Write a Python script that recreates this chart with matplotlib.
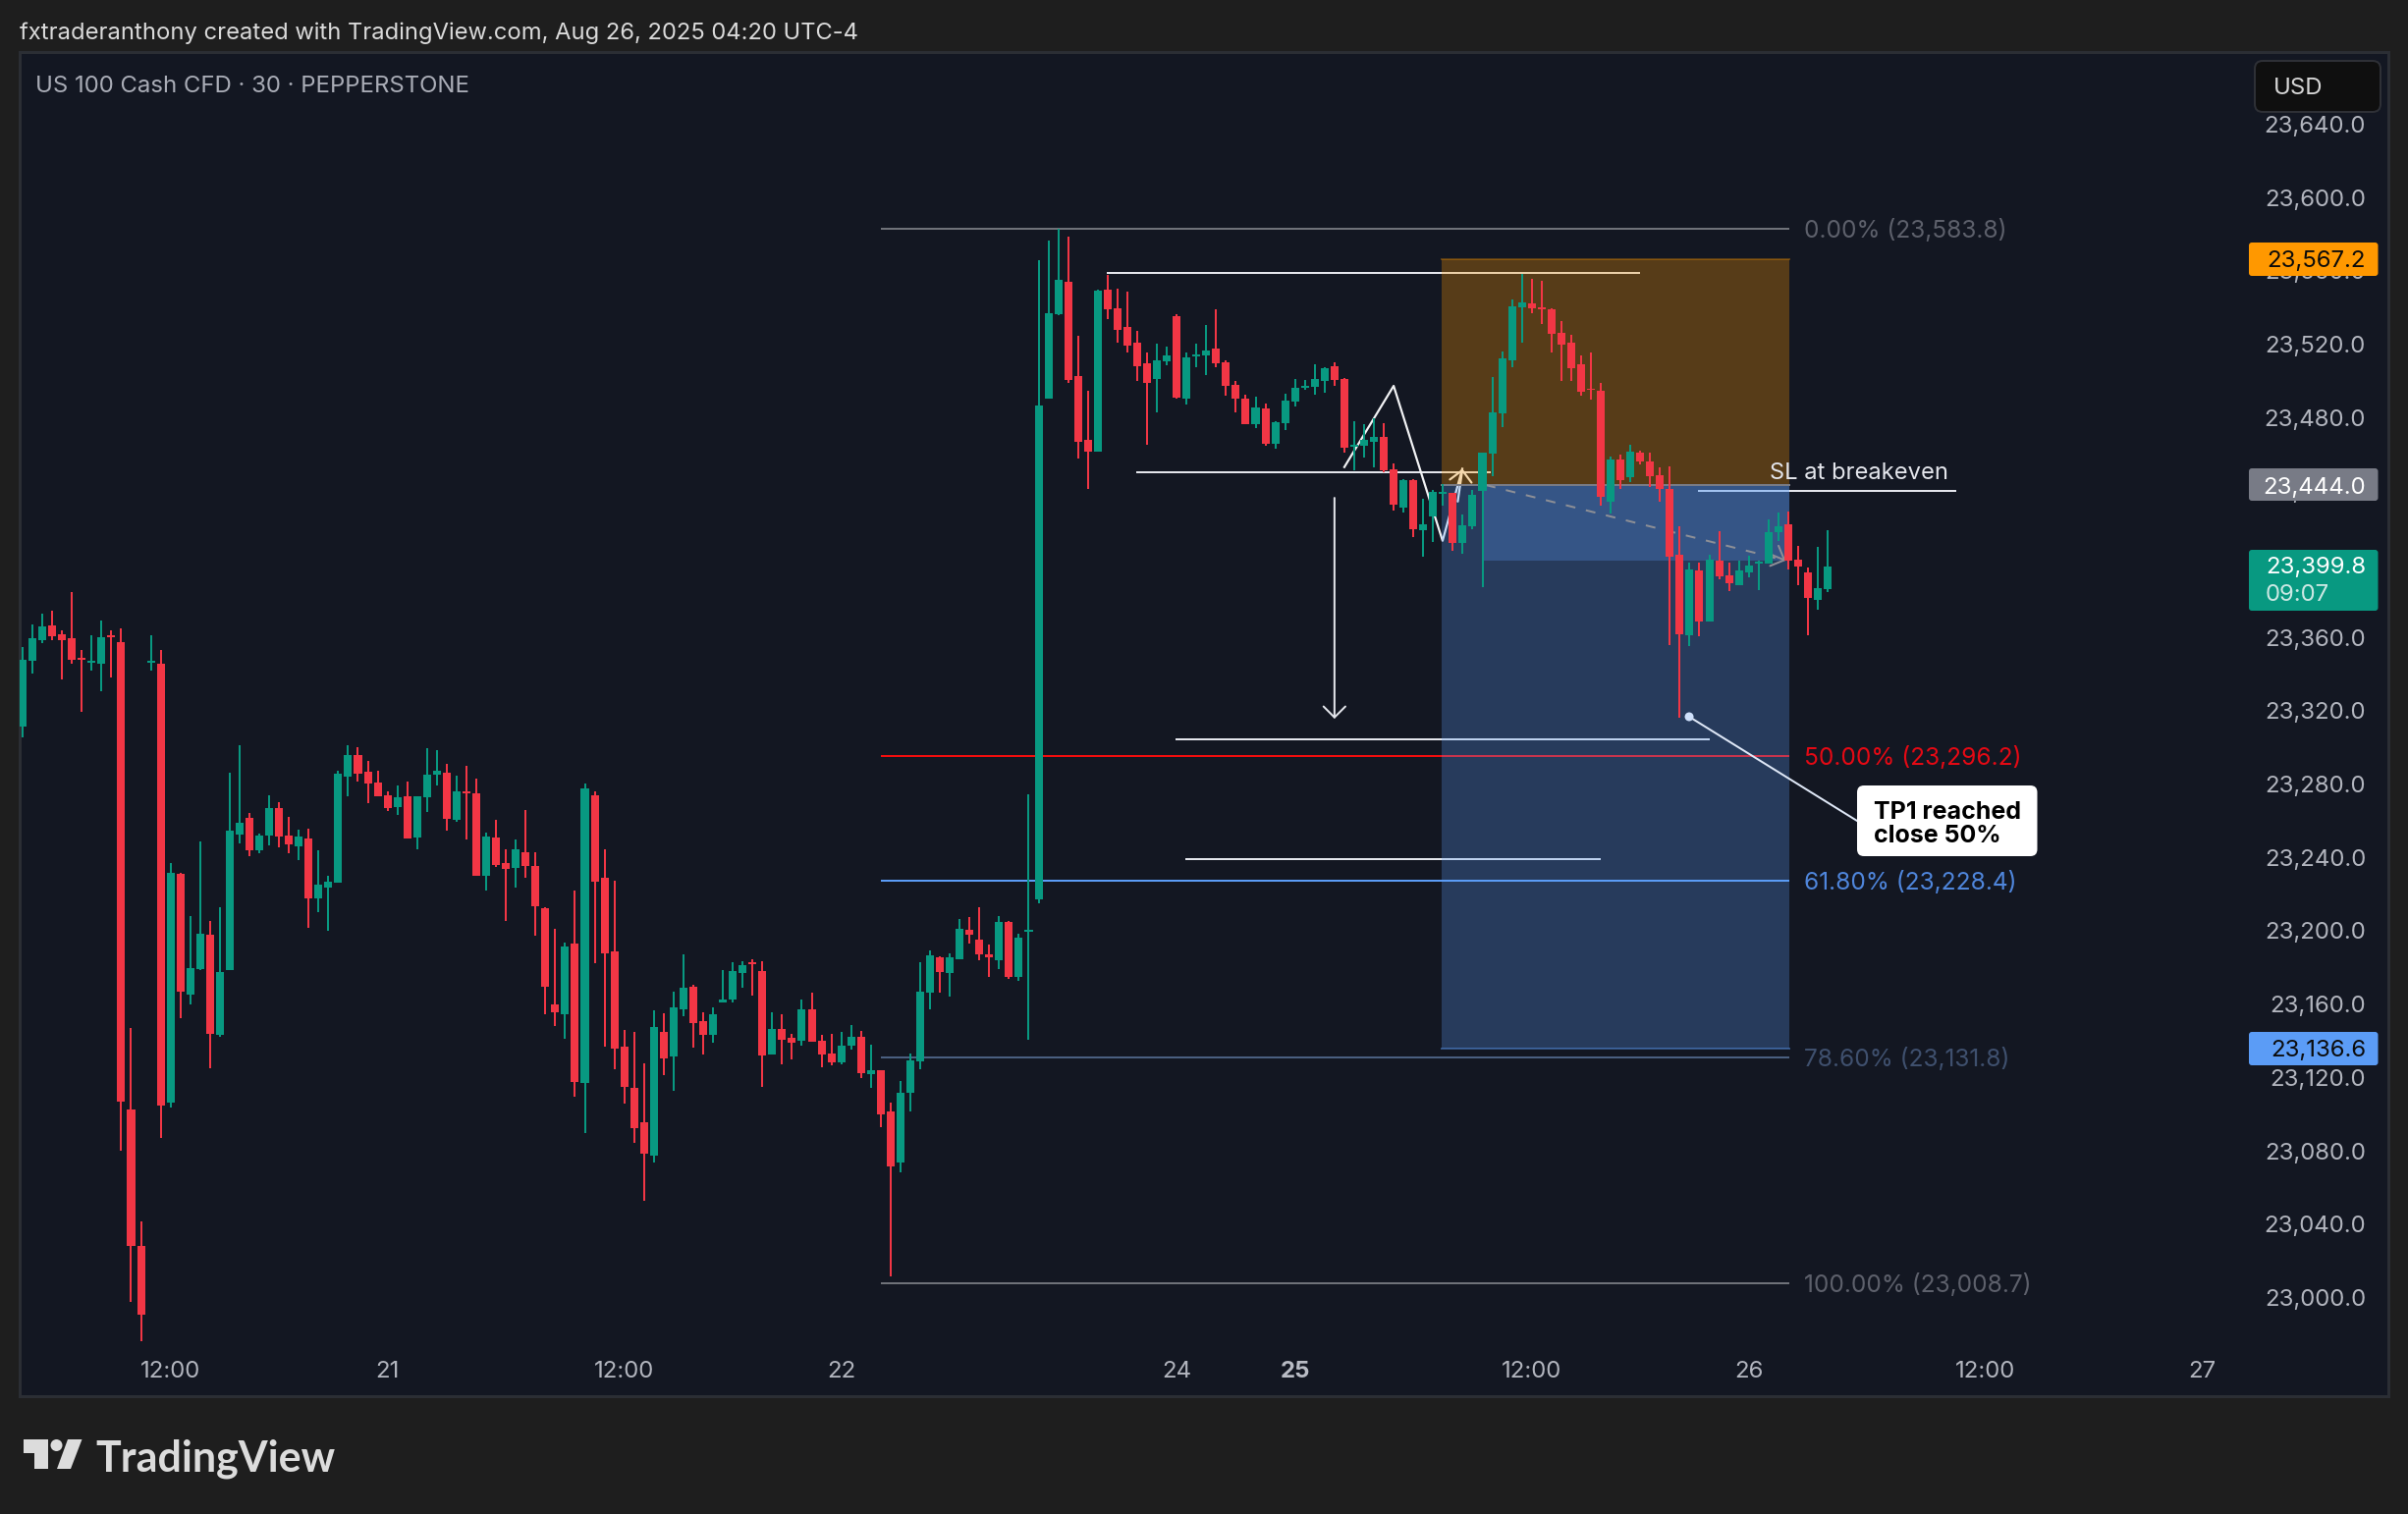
import matplotlib
matplotlib.use("Agg")
import numpy as np
import matplotlib.pyplot as plt
from matplotlib.patches import FancyBboxPatch, Polygon, Circle
from matplotlib.transforms import ScaledTranslation

plt.rcParams['font.family'] = ['Inter', 'DejaVu Sans']

# ====================== candles ======================
opens = [
    23312.5, 23348.3, 23359.5, 23367.4, 23362.5, 23360.6, 23349.6, 23347.2, 23346.6, 23361.9,
    23358.4, 23103.4, 23028.8, 23347.2, 23346.6, 23107.2, 23231.8, 23166.0, 23179.9, 23198.8,
    23144.1, 23179.4, 23253.4, 23262.4, 23244.7, 23252.9, 23267.9, 23252.9, 23246.9, 23251.2,
    23218.4, 23224.5, 23227.2, 23284.9, 23296.6, 23287.6, 23281.6, 23274.7, 23268.2, 23274.2,
    23251.8, 23273.6, 23286.0, 23287.1, 23261.3, 23276.9, 23275.9, 23231.0, 23251.7, 23237.7,
    23235.1, 23243.7, 23236.3, 23213.1, 23160.7, 23155.4, 23193.9, 23117.8, 23274.8, 23229.7,
    23189.6, 23137.7, 23115.2, 23096.5, 23078.3, 23145.7, 23132.4, 23158.0, 23170.3, 23151.7,
    23144.1, 23161.7, 23163.3, 23177.9, 23183.8, 23178.9, 23133.4, 23147.4, 23142.4, 23140.8,
    23158.0, 23140.8, 23133.8, 23129.1, 23138.1, 23143.1, 23122.8, 23124.8, 23102.3, 23074.5,
    23112.5, 23129.6, 23167.1, 23186.4, 23177.8, 23185.3, 23201.4, 23196.1, 23188.0, 23184.8,
    23205.7, 23175.7, 23200.3, 23218.0, 23491.1, 23537.2, 23554.9, 23503.5, 23468.6, 23462.2,
    23550.6, 23540.4, 23530.2, 23521.7, 23510.4, 23501.8, 23511.5, 23536.1, 23491.1, 23514.2,
    23514.7, 23518.5, 23511.0, 23498.6, 23491.1, 23477.2, 23485.8, 23466.5, 23477.8, 23489.5,
    23497.0, 23497.6, 23500.8, 23508.8, 23501.8, 23464.9, 23465.4, 23467.6, 23470.2, 23452.6,
    23431.7, 23446.7, 23419.4, 23426.9, 23439.1, 23439.7, 23412.4, 23421.5, 23440.7, 23461.1,
    23483.1, 23512.0, 23540.9, 23543.1, 23540.4, 23539.8, 23527.0, 23521.6, 23509.8, 23496.5,
    23495.4, 23434.9, 23457.9, 23448.3, 23461.6, 23456.8, 23449.3, 23441.8, 23406.0, 23362.0,
    23397.4, 23369.5, 23402.7, 23394.7, 23389.3, 23396.1, 23401.1, 23401.1, 23418.3, 23422.6,
    23403.3, 23396.3, 23381.3, 23387.2,
]
closes = [
    23348.5, 23360.6, 23366.8, 23361.6, 23359.5, 23348.5, 23348.5, 23348.3, 23361.1, 23361.1,
    23107.5, 23028.8, 22991.4, 23348.3, 23105.6, 23232.4, 23167.6, 23180.5, 23199.3, 23144.7,
    23178.3, 23255.3, 23259.7, 23244.7, 23252.9, 23267.9, 23252.3, 23248.0, 23252.3, 23218.4,
    23226.1, 23227.7, 23286.5, 23296.6, 23286.5, 23281.3, 23274.2, 23267.9, 23273.6, 23251.2,
    23274.2, 23286.0, 23288.1, 23261.9, 23276.9, 23275.8, 23231.0, 23252.3, 23236.7, 23234.7,
    23245.3, 23236.3, 23214.2, 23170.3, 23156.4, 23192.2, 23118.5, 23278.5, 23227.7, 23188.6,
    23136.7, 23115.8, 23093.3, 23079.3, 23148.4, 23131.2, 23159.0, 23169.9, 23150.6, 23144.1,
    23155.4, 23163.3, 23178.9, 23182.2, 23182.6, 23132.8, 23147.4, 23141.4, 23139.8, 23158.0,
    23140.4, 23133.4, 23129.1, 23138.1, 23143.1, 23123.2, 23124.8, 23100.6, 23072.3, 23112.5,
    23130.2, 23167.7, 23187.5, 23178.4, 23186.4, 23202.0, 23198.7, 23188.0, 23186.4, 23205.7,
    23175.7, 23197.1, 23201.4, 23487.4, 23537.7, 23556.0, 23501.3, 23467.6, 23462.2, 23550.1,
    23539.9, 23528.6, 23520.1, 23508.8, 23499.7, 23512.0, 23514.7, 23491.7, 23513.6, 23515.2,
    23517.4, 23510.4, 23498.1, 23491.1, 23477.2, 23486.3, 23466.5, 23478.3, 23490.1, 23497.0,
    23498.1, 23501.8, 23507.7, 23501.3, 23464.4, 23466.0, 23468.6, 23470.2, 23452.0, 23433.3,
    23446.7, 23419.9, 23422.6, 23440.3, 23440.2, 23412.4, 23422.0, 23438.6, 23461.6, 23483.6,
    23513.1, 23541.4, 23543.6, 23540.4, 23539.7, 23526.5, 23520.6, 23507.7, 23494.9, 23495.7,
    23437.5, 23457.9, 23446.6, 23462.2, 23456.8, 23448.8, 23441.8, 23404.9, 23362.6, 23397.9,
    23369.5, 23403.3, 23394.2, 23390.4, 23397.4, 23400.0, 23401.8, 23418.3, 23421.5, 23402.7,
    23399.5, 23382.4, 23387.7, 23399.5,
]
highs = [
    23355.6, 23367.7, 23374.0, 23375.3, 23364.7, 23385.7, 23354.0, 23361.9, 23370.1, 23364.7,
    23365.7, 23147.7, 23042.5, 23361.9, 23354.0, 23237.9, 23232.4, 23208.9, 23249.6, 23206.2,
    23213.8, 23287.0, 23302.1, 23265.2, 23254.0, 23274.7, 23270.9, 23263.0, 23255.9, 23256.4,
    23244.7, 23230.8, 23288.1, 23302.1, 23301.0, 23293.6, 23288.1, 23276.9, 23280.2, 23282.1,
    23274.2, 23300.4, 23299.3, 23292.0, 23285.4, 23290.9, 23283.9, 23254.3, 23261.3, 23245.3,
    23250.7, 23266.8, 23243.7, 23213.8, 23201.9, 23194.5, 23222.8, 23281.2, 23276.9, 23245.3,
    23228.1, 23146.7, 23145.7, 23128.5, 23157.4, 23156.0, 23167.6, 23187.9, 23171.3, 23156.4,
    23159.0, 23179.5, 23183.8, 23184.3, 23185.3, 23184.3, 23156.4, 23155.4, 23144.7, 23163.3,
    23167.2, 23144.1, 23144.7, 23145.7, 23149.4, 23146.3, 23138.7, 23124.8, 23107.2, 23118.9,
    23133.9, 23183.7, 23190.2, 23187.0, 23188.6, 23207.3, 23208.4, 23213.7, 23193.4, 23208.9,
    23206.2, 23199.3, 23275.3, 23566.7, 23577.4, 23583.6, 23579.5, 23525.4, 23495.4, 23550.6,
    23558.6, 23551.1, 23549.5, 23528.1, 23516.3, 23521.1, 23519.5, 23537.2, 23516.3, 23521.1,
    23531.3, 23539.9, 23512.0, 23500.8, 23493.3, 23492.2, 23488.5, 23478.8, 23493.8, 23501.8,
    23501.3, 23509.9, 23508.3, 23511.0, 23502.4, 23478.8, 23477.2, 23480.4, 23477.8, 23455.8,
    23447.2, 23447.2, 23436.5, 23441.3, 23444.3, 23439.7, 23427.9, 23441.3, 23461.6, 23502.9,
    23516.8, 23545.2, 23559.1, 23556.4, 23555.4, 23540.4, 23533.4, 23525.9, 23514.7, 23516.3,
    23499.7, 23459.5, 23460.6, 23465.9, 23462.7, 23461.6, 23453.6, 23454.2, 23421.5, 23401.7,
    23401.7, 23405.9, 23418.8, 23401.7, 23402.7, 23405.4, 23402.7, 23425.2, 23429.0, 23429.5,
    23410.8, 23399.0, 23410.2, 23419.3,
]
lows = [
    23306.4, 23341.2, 23357.8, 23359.5, 23337.9, 23346.6, 23320.4, 23342.8, 23331.6, 23339.0,
    23080.7, 22998.5, 22977.0, 23342.8, 23087.8, 23104.5, 23153.1, 23160.8, 23179.4, 23125.8,
    23143.0, 23179.4, 23248.5, 23241.4, 23243.0, 23247.4, 23246.3, 23243.0, 23239.5, 23202.3,
    23211.1, 23200.9, 23227.2, 23274.2, 23282.1, 23270.4, 23274.2, 23266.3, 23264.1, 23251.2,
    23245.2, 23265.7, 23280.2, 23255.3, 23260.3, 23250.7, 23231.0, 23222.8, 23235.7, 23206.2,
    23224.4, 23229.7, 23198.2, 23155.4, 23149.0, 23142.0, 23110.5, 23090.6, 23183.2, 23137.7,
    23125.4, 23106.6, 23085.3, 23053.5, 23074.4, 23122.1, 23113.5, 23154.3, 23137.1, 23133.4,
    23139.8, 23161.7, 23161.7, 23169.9, 23165.6, 23115.8, 23133.4, 23128.1, 23130.8, 23138.1,
    23140.4, 23126.5, 23127.5, 23128.1, 23136.1, 23120.5, 23115.2, 23093.7, 23012.3, 23069.1,
    23102.3, 23125.4, 23158.0, 23167.1, 23165.0, 23185.3, 23193.9, 23184.8, 23175.7, 23180.0,
    23174.6, 23173.6, 23141.4, 23215.9, 23491.1, 23536.7, 23499.7, 23458.5, 23441.9, 23462.2,
    23534.5, 23521.7, 23516.3, 23500.8, 23466.0, 23483.7, 23509.3, 23491.1, 23487.9, 23508.3,
    23504.0, 23508.3, 23492.7, 23483.7, 23477.2, 23475.1, 23465.4, 23463.8, 23474.0, 23486.9,
    23496.0, 23493.3, 23494.4, 23498.1, 23461.7, 23452.0, 23459.0, 23453.6, 23451.0, 23430.1,
    23429.0, 23415.6, 23404.9, 23413.0, 23432.7, 23408.1, 23406.5, 23419.9, 23388.3, 23448.8,
    23475.6, 23508.2, 23521.6, 23537.7, 23531.8, 23516.3, 23500.7, 23500.7, 23492.7, 23490.6,
    23432.7, 23428.4, 23441.8, 23445.6, 23455.2, 23442.9, 23434.9, 23356.7, 23317.0, 23356.1,
    23361.5, 23369.5, 23392.6, 23386.1, 23389.3, 23393.6, 23386.7, 23401.1, 23413.4, 23397.9,
    23389.3, 23362.0, 23375.9, 23385.6,
]

# axis ticks
time_ticks = [15, 37, 61, 83, 117, 129, 153, 175, 199, 221]
time_labels = ['12:00', '21', '12:00', '22', '24', '25', '12:00', '26', '12:00', '27']
price_ticks = list(range(23000, 23641, 40))

# fib levels: (price, label, line colour, label colour)
fib_prices = [23583.8, 23296.2, 23228.4, 23131.8, 23008.7]
fib_labels = ['0.00% (23,583.8)', '50.00% (23,296.2)', '61.80% (23,228.4)',
              '78.60% (23,131.8)', '100.00% (23,008.7)']
fib_line_colors = ['#6f7279', '#f20d0d', '#5b9cf6', '#4a5f80', '#6f7279']
fib_text_colors = ['#5d606b', '#e50914', '#4f86dc', '#3f506e', '#5d606b']

# short position tool
stop_price, entry_price, target_price, last_price = 23567.2, 23444.0, 23136.6, 23403.0

# hand-drawn horizontal lines: x0, x1, price
hline_x0 = [109.9, 112.9, 169.9, 116.9, 117.9]
hline_x1 = [164.0, 148.8, 196.0, 171.0, 160.0]
hline_p = [23559.9, 23451.1, 23441.0, 23305.5, 23240.0]

zigzag_x = [134.0, 139.0, 143.96, 145.96]
zigzag_p = [23453.8, 23498.1, 23413.6, 23452.9]

GREEN = '#089981'
RED = '#f23645'
PANEL = '#131722'
OUTER = '#1e1e1e'
W, H = 2452, 1542
PX = 72 / 100  # one pixel in points
HEAD = '->,head_length=0.8,head_width=0.8'


def bar_x(px):
    return (px - 23) / 10.044


def price_at(py):
    return 23583.8 - (py - 233) * 0.5356


def px_x(i):
    return 23 + i * 10.044


def px_y(p):
    return 233 + (23583.8 - p) * 1.867


fig = plt.figure(figsize=(W / 100, H / 100), dpi=100, facecolor=OUTER)
L, R, T, B = 20, 2432, 53, 1422
ax = fig.add_axes([L / W, 1 - B / H, (R - L) / W, (B - T) / H], facecolor=PANEL)
ax.set_xlim(bar_x(L), bar_x(R))
ax.set_ylim(price_at(B), price_at(T))
for s in ax.spines.values():
    s.set_color('#2b2e34')
    s.set_linewidth(3 * PX)

# ticks live inside the panel, like the TradingView scales
ax.yaxis.tick_right()
ax.set_yticks(price_ticks)
ax.set_yticklabels([f'{p:,.1f}' for p in price_ticks], ha='right', fontsize=24 * PX, color='#b2b5be')
ax.tick_params(axis='y', length=0, pad=-23 * PX)
nudge_up = ScaledTranslation(0, 1.6 / 100, fig.dpi_scale_trans)
for t in ax.get_yticklabels():
    t.set_transform(t.get_transform() + nudge_up)
ax.set_xticks(time_ticks)
ax.set_xticklabels(time_labels, fontsize=24 * PX, color='#b2b5be')
ax.tick_params(axis='x', length=0, pad=-36 * PX)
for t in ax.get_xticklabels():
    t.set_va('top')
    if t.get_text() == '25':
        t.set_fontweight('bold')
        t.set_color('#b9bcc5')

# drawings sit under the position box, so they pick up its tint
for x0, x1, p in zip(hline_x0, hline_x1, hline_p):
    ax.plot([x0, x1], [p, p], color='#e4e6ec', lw=2 * PX, zorder=2, solid_capstyle='butt')
ax.plot(zigzag_x, zigzag_p, color='#f2f3f5', lw=2.2 * PX, zorder=2)
ax.annotate('', xy=(zigzag_x[-1] + 0.02, zigzag_p[-1]), xytext=(145.5, 23435),
            arrowprops=dict(arrowstyle=HEAD, color='#f2f3f5',
                            lw=2.2 * PX, shrinkA=0, shrinkB=0), zorder=2)
ax.annotate('', xy=(133.0, 23316.5), xytext=(133.0, 23437.0),
            arrowprops=dict(arrowstyle=HEAD, color='#e4e6ec',
                            lw=2 * PX, shrinkA=0, shrinkB=0), zorder=2)

# fib lines + labels
fib_x0, fib_x1 = bar_x(896.7), bar_x(1822)
for p, lab, lc, tc in zip(fib_prices, fib_labels, fib_line_colors, fib_text_colors):
    ax.plot([fib_x0, fib_x1], [p, p], color=lc, lw=2 * PX, zorder=2, solid_capstyle='butt')
    ax.annotate(lab, xy=(bar_x(1837), p), xytext=(0, -2.5 * PX), textcoords='offset points',
                color=tc, fontsize=24.5 * PX, va='center', ha='left', zorder=5)

# position box
box_x0, box_x1, fill_x0 = bar_x(1468), bar_x(1822), bar_x(1510)
ax.fill_between([box_x0, box_x1], entry_price, stop_price, color='#ff9800', alpha=0.29, lw=0, zorder=3)
ax.fill_between([box_x0, box_x1], target_price, entry_price, color='#5b9cf6', alpha=0.28, lw=0, zorder=3)
ax.fill_between([fill_x0, box_x1], last_price, entry_price, color='#5b9cf6', alpha=0.28, lw=0, zorder=3)
ax.plot([box_x0, box_x1], [stop_price] * 2, color='#ff9800', alpha=0.3, lw=2 * PX, zorder=3)
ax.plot([box_x0, box_x1], [entry_price] * 2, color='#787b86', lw=2 * PX, zorder=3)
ax.plot([box_x0, box_x1], [target_price] * 2, color='#5b9cf6', alpha=0.45, lw=2 * PX, zorder=3)

# dashed trade line
dash_x = [bar_x(1513), bar_x(1818.3)]
dash_p = [entry_price, 23402.8]
ax.plot(dash_x, dash_p, color='#8d8f96', lw=2 * PX, ls=(0, (5, 5.5)), zorder=3.5)
ax.annotate('', xy=(dash_x[1], dash_p[1]), xytext=(dash_x[1] - 2, dash_p[1] + 4.5),
            arrowprops=dict(arrowstyle=HEAD, color='#8d8f96',
                            lw=2 * PX, shrinkA=0, shrinkB=0), zorder=3.5)

# candles
x = np.arange(len(opens))
o, h, l, c = map(np.array, (opens, highs, lows, closes))
colors = np.where(c >= o, GREEN, RED)
ax.vlines(x, l, h, colors=colors, lw=2 * PX, zorder=4)
body = np.maximum(np.abs(c - o), 1.0)
ax.bar(x, body, bottom=np.minimum(o, c), width=0.8, color=colors, lw=0, zorder=4)

# ---- everything below is chart furniture, placed in picture pixels ----
ov = fig.add_axes([0, 0, 1, 1], facecolor='none', zorder=10)
ov.set_xlim(0, W)
ov.set_ylim(H, 0)
ov.axis('off')


def tag(y0, y1, color):
    ov.add_patch(FancyBboxPatch((2290, y0), 131.5, y1 - y0, boxstyle='round,pad=0,rounding_size=3',
                                fc=color, ec='none', zorder=3))


def tag_text(y, s, color):
    ov.text(2409, y, s, color=color, fontsize=24 * PX, ha='right', va='center_baseline', zorder=4)


tag(247, 281, '#ff9800')
tag_text(px_y(stop_price), f'{stop_price:,.1f}', '#0b0b0b')
tag(477, 510, '#787b86')
tag_text(px_y(entry_price), f'{entry_price:,.1f}', '#ffffff')
tag(560, 622, GREEN)
tag_text(576, '23,399.8', '#ffffff')
ov.text(2307, 604, '09:07', color='#cbe8e3', fontsize=24 * PX, ha='left', va='center_baseline', zorder=4)
tag(1051, 1085, '#5b9cf6')
tag_text(px_y(target_price), f'{target_price:,.1f}', '#0b0b0b')

# USD button
ov.add_patch(FancyBboxPatch((2296, 62), 128, 52, boxstyle='round,pad=0,rounding_size=8',
                            fc='#0f0f0f', ec='#2e3036', lw=2 * PX, zorder=5))
ov.text(2315, 87.5, 'USD', color='#d6d6d6', fontsize=24 * PX, ha='left', va='center_baseline', zorder=6)

# header text
ov.text(20, 31, 'fxtraderanthony created with TradingView.com, Aug 26, 2025 04:20 UTC-4',
        color='#dadada', fontsize=23.75 * PX, ha='left', va='center_baseline')
ov.text(36, 86, 'US 100 Cash CFD · 30 · PEPPERSTONE', color='#a9acb6', fontsize=24 * PX,
        ha='left', va='center_baseline')

# SL note
ov.text(1802, 480, 'SL at breakeven', color='#e4e6ec', fontsize=23.7 * PX, ha='left', va='center_baseline')

# callout
dot_x, dot_y = px_x(168.96), px_y(23317.6)
ov.plot([dot_x, 1891], [dot_y, 836], color='#dfe8f7', lw=2 * PX, zorder=3)
ov.add_patch(Circle((dot_x, dot_y), 4.5, fc='#cfe0fb', ec='none', zorder=4))
ov.add_patch(FancyBboxPatch((1891, 800), 183.5, 72, boxstyle='round,pad=0,rounding_size=7',
                            fc='#ffffff', ec='none', zorder=4))
ov.text(1907.5, 825, 'TP1 reached', color='#000000', fontsize=25 * PX, fontweight='bold',
        ha='left', va='center_baseline', zorder=5)
ov.text(1907.5, 849.5, 'close 50%', color='#000000', fontsize=25 * PX, fontweight='bold',
        ha='left', va='center_baseline', zorder=5)

# TradingView logo
LOGO = '#dcdcdc'
ov.add_patch(Polygon([(24, 1466), (48.5, 1466), (48.5, 1496), (34.5, 1496), (34.5, 1480), (24, 1480)],
                     closed=True, fc=LOGO, ec='none'))
ov.add_patch(Circle((57.5, 1472), 6, fc=LOGO, ec='none'))
ov.add_patch(Polygon([(69, 1466), (83.5, 1466), (72, 1496), (58, 1496)], closed=True, fc=LOGO, ec='none'))
ov.text(97, 1482, 'TradingView', color=LOGO, fontsize=43 * PX, fontweight='bold',
        family=['Lato', 'DejaVu Sans'], ha='left', va='center_baseline')

fig.savefig('out.png', dpi=100, facecolor=fig.get_facecolor())
